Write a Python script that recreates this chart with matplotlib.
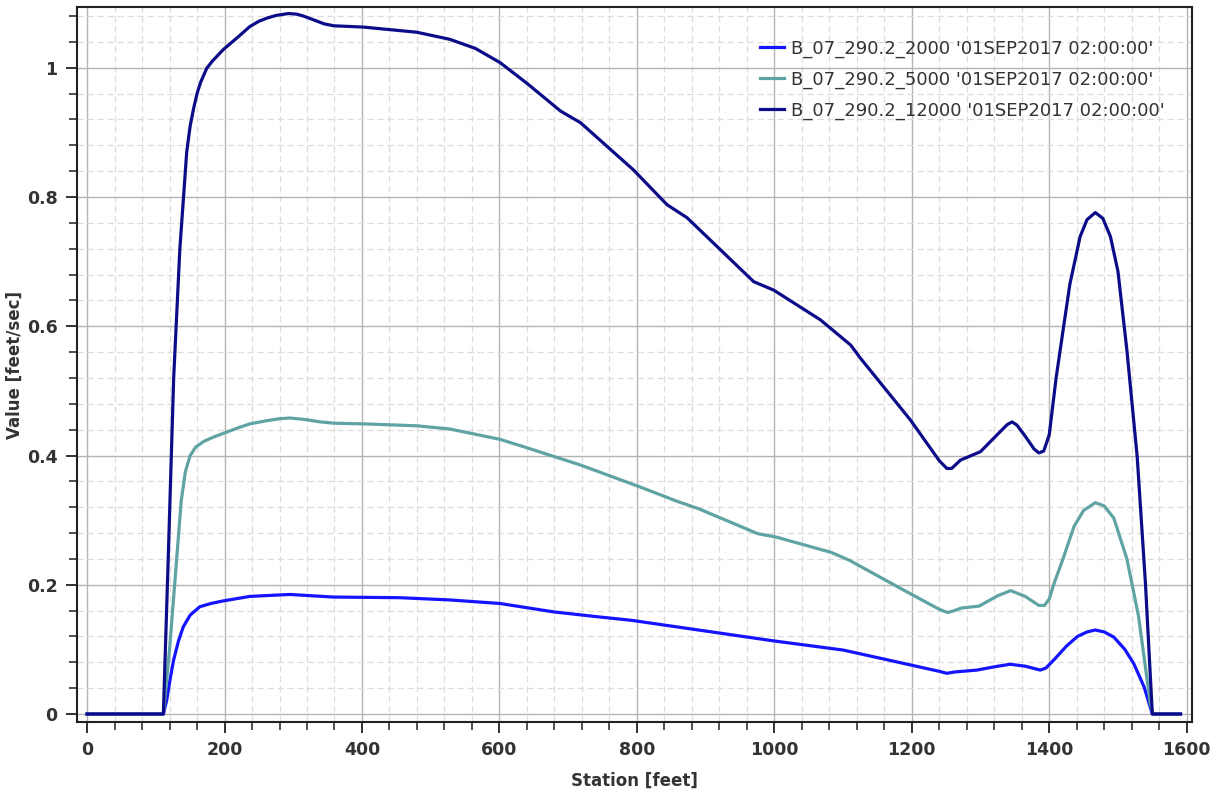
import matplotlib
matplotlib.use("Agg")
import matplotlib.pyplot as plt
from matplotlib.ticker import MultipleLocator

# station [feet] and velocity [feet/sec]
st_12000 = [0, 111, 118, 126, 135, 145, 150, 155, 160, 165, 174, 182, 190, 198, 220, 237,
            250, 262, 275, 293, 305, 315, 330, 345, 359, 402, 480, 528, 565, 601, 640,
            689, 718, 795, 844, 873, 970, 999, 1067, 1111, 1125, 1198, 1240, 1251, 1258,
            1266, 1271, 1300, 1325, 1339, 1346, 1353, 1365, 1378, 1385, 1392, 1400, 1410,
            1421, 1430, 1445, 1455, 1467, 1478, 1489, 1500, 1513, 1528, 1540, 1550, 1591]
v_12000 = [0, 0, 0.238, 0.52, 0.72, 0.87, 0.91, 0.937, 0.96, 0.977, 0.999, 1.01, 1.019,
           1.028, 1.048, 1.064, 1.072, 1.077, 1.081, 1.084, 1.083, 1.080, 1.074, 1.068,
           1.065, 1.063, 1.055, 1.044, 1.03, 1.008, 0.976, 0.933, 0.915, 0.842, 0.788,
           0.768, 0.669, 0.656, 0.610, 0.571, 0.551, 0.455, 0.392, 0.380, 0.380, 0.388,
           0.393, 0.406, 0.433, 0.448, 0.452, 0.447, 0.430, 0.410, 0.404, 0.407, 0.432,
           0.52, 0.600, 0.665, 0.739, 0.765, 0.776, 0.767, 0.739, 0.685, 0.563, 0.398,
           0.202, 0, 0]

st_5000 = [0, 111, 120, 130, 137, 143, 150, 158, 170, 185, 200, 220, 237, 262, 280, 295,
           315, 340, 359, 402, 480, 528, 601, 640, 675, 716, 803, 859, 889, 976, 1002,
           1083, 1109, 1186, 1240, 1252, 1262, 1272, 1298, 1325, 1344, 1365, 1385, 1393,
           1400, 1407, 1420, 1436, 1450, 1467, 1480, 1494, 1513, 1530, 1547, 1551, 1591]
v_5000 = [0, 0, 0.10, 0.235, 0.33, 0.375, 0.40, 0.413, 0.422, 0.429, 0.435, 0.443, 0.449,
          0.454, 0.457, 0.458, 0.456, 0.452, 0.450, 0.449, 0.446, 0.441, 0.425, 0.412,
          0.400, 0.386, 0.352, 0.329, 0.318, 0.279, 0.274, 0.250, 0.238, 0.193, 0.162,
          0.157, 0.160, 0.164, 0.167, 0.183, 0.191, 0.182, 0.168, 0.168, 0.178, 0.202,
          0.240, 0.290, 0.315, 0.327, 0.322, 0.303, 0.240, 0.151, 0.017, 0, 0]

st_2000 = [0, 111, 116, 121, 126, 133, 140, 150, 164, 180, 198, 237, 295, 358, 455, 528,
           601, 679, 747, 792, 1000, 1100, 1183, 1240, 1251, 1262, 1295, 1320, 1343,
           1365, 1387, 1395, 1407, 1425, 1441, 1455, 1467, 1480, 1494, 1510, 1523, 1538,
           1550, 1591]
v_2000 = [0, 0, 0.022, 0.055, 0.084, 0.113, 0.135, 0.153, 0.166, 0.171, 0.175, 0.182,
          0.185, 0.181, 0.180, 0.1765, 0.171, 0.158, 0.150, 0.145, 0.113, 0.099, 0.0795,
          0.066, 0.063, 0.065, 0.068, 0.073, 0.077, 0.074, 0.068, 0.071, 0.084, 0.105,
          0.120, 0.127, 0.130, 0.127, 0.119, 0.100, 0.078, 0.042, 0, 0]

labels = ["B_07_290.2_2000 '01SEP2017 02:00:00'",
          "B_07_290.2_5000 '01SEP2017 02:00:00'",
          "B_07_290.2_12000 '01SEP2017 02:00:00'"]

fig = plt.figure(figsize=(12.19, 8.01), dpi=100)
ax = fig.add_axes([0.0632, 0.0986, 0.9148, 0.8926])

ax.plot(st_2000, v_2000, color="#1414ff", lw=2.3, label=labels[0])
ax.plot(st_5000, v_5000, color="#5fa3a3", lw=2.3, label=labels[1])
ax.plot(st_12000, v_12000, color="#0c0c8a", lw=2.3, label=labels[2])

ax.set_xlim(-14.6, 1608)
ax.set_ylim(-0.0124, 1.094)
ax.xaxis.set_major_locator(MultipleLocator(200))
ax.xaxis.set_minor_locator(MultipleLocator(40))
ax.yaxis.set_major_locator(MultipleLocator(0.2))
ax.yaxis.set_minor_locator(MultipleLocator(0.04))
ax.set_yticks([0, 0.2, 0.4, 0.6, 0.8, 1.0])
ax.set_yticklabels(["0", "0.2", "0.4", "0.6", "0.8", "1"])

ax.grid(which="major", color="#b4b4b4", lw=1.0, ls="-")
ax.grid(which="minor", color="#dcdcdc", lw=0.9, ls=(0, (5, 3)))
ax.set_axisbelow(True)

for s in ax.spines.values():
    s.set_color("#222222")
    s.set_linewidth(1.5)

ax.tick_params(which="major", direction="out", length=8, width=1.3, color="#222222",
               labelsize=12.5, labelcolor="#333333", pad=6)
ax.tick_params(which="minor", direction="out", length=6, width=1.1, color="#222222")
for t in ax.get_xticklabels() + ax.get_yticklabels():
    t.set_fontweight("bold")

ax.set_xlabel("Station [feet]", fontsize=12, fontweight="bold", color="#333333", labelpad=9)
ax.set_ylabel("Value [feet/sec]", fontsize=12, fontweight="bold", color="#333333", labelpad=2)

leg = ax.legend(loc="upper right", bbox_to_anchor=(0.99, 0.977), frameon=False,
                fontsize=13, handlelength=1.3, handletextpad=0.4, labelspacing=0.7)
for t in leg.get_texts():
    t.set_color("#333333")

fig.savefig("out.png", dpi=100)
